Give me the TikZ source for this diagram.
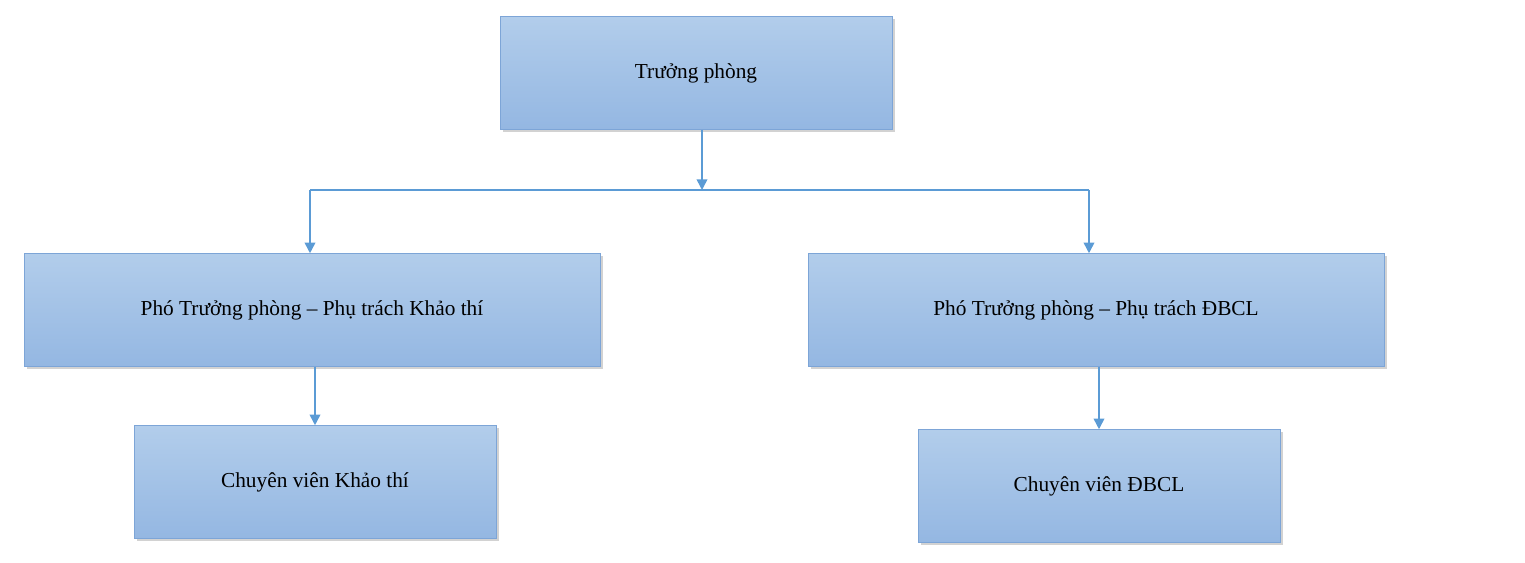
\documentclass[tikz,border=0pt]{standalone}
\usepackage{fontspec}
\setmainfont{Liberation Serif}
\usetikzlibrary{shadows,arrows.meta}

\begin{document}
\begin{tikzpicture}[x=0.75pt, y=-0.75pt]

  \definecolor{my_blue_top}{RGB}{178,205,235}
  \definecolor{my_blue_bottom}{RGB}{148,183,226}
  \definecolor{my_blue_border}{RGB}{125,165,215}
  \definecolor{my_arrow}{RGB}{91,155,213}

  \tikzstyle{block} = [rectangle, draw=my_blue_border, top color=my_blue_top, bottom color=my_blue_bottom, text centered, font=\fontsize{16}{19}\selectfont, drop shadow={shadow xshift=2pt, shadow yshift=-2pt, fill=black!35}, inner sep=0pt]
  \tikzstyle{line} = [draw=my_arrow, line width=1.2pt, -{Triangle[length=8pt,width=8pt]}]

  \useasboundingbox (0,0) rectangle (1525,563);

  \node [block, minimum width=392*0.75pt, minimum height=113*0.75pt] (truong) at (696,73) {Trưởng phòng};
  \node [block, minimum width=576*0.75pt, minimum height=113*0.75pt] (phokt) at (312,310) {Phó Trưởng phòng – Phụ trách Khảo thí};
  \node [block, minimum width=576*0.75pt, minimum height=113*0.75pt] (phodb) at (1096,310) {Phó Trưởng phòng – Phụ trách ĐBCL};
  \node [block, minimum width=362*0.75pt, minimum height=113*0.75pt] (cvkt) at (315,482) {Chuyên viên Khảo thí};
  \node [block, minimum width=362*0.75pt, minimum height=113*0.75pt] (cvdb) at (1099,486) {Chuyên viên ĐBCL};

  \coordinate (mid) at (702,190);
  \coordinate (midl) at (310,190);
  \coordinate (midr) at (1089,190);

  \path [line] (truong.south -| mid) -- (mid);
  \draw [my_arrow, line width=1.2pt] (midl) -- (midr);
  \path [line] (midl) -- (midl |- phokt.north);
  \path [line] (midr) -- (midr |- phodb.north);
  \path [line] (phokt.south -| cvkt) -- (cvkt.north);
  \path [line] (phodb.south -| cvdb) -- (cvdb.north);

\end{tikzpicture}
\end{document}
